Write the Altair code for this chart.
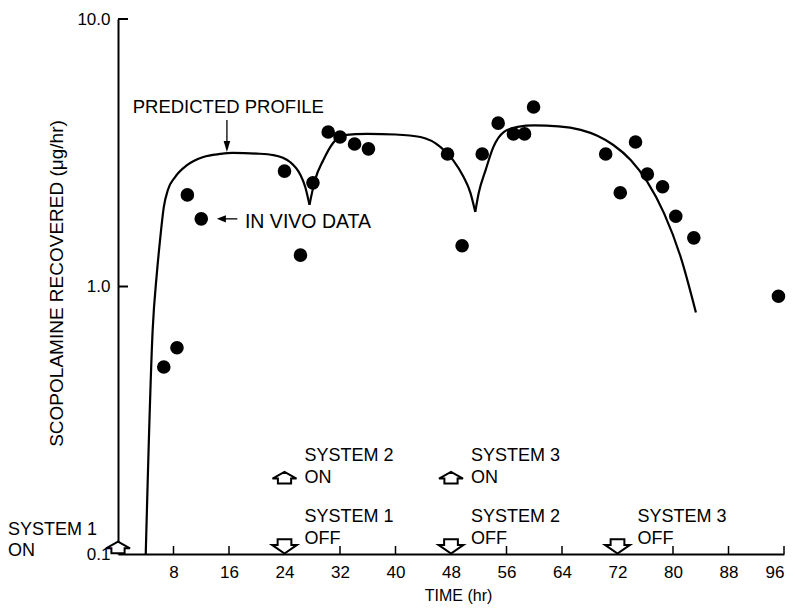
import altair as alt
import pandas as pd

FONT = "Liberation Sans"

# In vivo scopolamine recovery rate (ug/hr) against time (hr)
obs_hr = [6.6, 8.5, 10.0, 12.0, 24.0, 26.3, 28.1, 30.3, 32.0, 34.1, 36.1,
          47.5, 49.6, 52.5, 54.8, 57.0, 58.6, 59.9,
          70.3, 72.4, 74.6, 76.3, 78.5, 80.4, 83.0, 95.2]
obs_rate = [0.50, 0.59, 2.20, 1.79, 2.70, 1.31, 2.44, 3.78, 3.62, 3.41, 3.27,
            3.13, 1.42, 3.13, 4.08, 3.72, 3.72, 4.69,
            3.13, 2.24, 3.47, 2.63, 2.36, 1.83, 1.52, 0.92]

# Predicted profile, one segment per system (cusps at each changeover)
seg1_hr = [4.0, 5.0, 5.6, 6.06, 6.6, 7.2, 8.2, 10.0, 12.3, 14.7, 16.5, 20.0,
           22.4, 24.8, 26.3, 27.0, 27.6]
seg1_rate = [0.10, 0.69, 1.12, 1.49, 1.98, 2.30, 2.56, 2.85, 3.05, 3.13, 3.16,
             3.14, 3.10, 2.92, 2.61, 2.35, 2.02]
seg2_hr = [27.6, 28.4, 29.6, 31.0, 32.5, 36.0, 40.0, 43.6, 46.5, 48.3, 49.8,
           50.8, 51.5]
seg2_rate = [2.02, 2.50, 2.97, 3.44, 3.68, 3.72, 3.70, 3.62, 3.32, 2.97, 2.57,
             2.24, 1.90]
seg3_hr = [51.5, 52.0, 53.0, 54.1, 55.6, 57.6, 60.0, 63.5, 66.7, 69.1, 71.4,
           73.9, 76.3, 78.7, 81.1, 83.3]
seg3_rate = [1.90, 2.24, 2.73, 3.32, 3.78, 3.95, 4.00, 3.97, 3.85, 3.66, 3.38,
             2.97, 2.46, 1.88, 1.29, 0.80]

x_ticks = [8, 16, 24, 32, 40, 48, 56, 64, 72, 80, 88, 96]
y_ticks = [0.1, 1.0, 10.0]

# System application / removal events
on_hr = [0, 24, 48]
on_name = ["SYSTEM 1", "SYSTEM 2", "SYSTEM 3"]
off_hr = [24, 48, 72]
off_name = ["SYSTEM 1", "SYSTEM 2", "SYSTEM 3"]

# Outline arrow glyphs (unit box, scaled by size)
UP = "M0,-0.5L1,0.05L0.55,0.05L0.55,0.46L-0.55,0.46L-0.55,0.05L-1,0.05Z"
DOWN = "M-0.55,-0.55L0.55,-0.55L0.55,-0.1L1,-0.1L0,0.6L-1,-0.1L-0.55,-0.1Z"
HEAD_DOWN = "M-0.6,-1L0.6,-1L0,1Z"
HEAD_LEFT = "M-1,0L1,-0.8L1,0.8Z"

W, H = 666, 535

profile = pd.DataFrame({
    "hr": seg1_hr + seg2_hr + seg3_hr,
    "rate": seg1_rate + seg2_rate + seg3_rate,
    "seg": [1] * len(seg1_hr) + [2] * len(seg2_hr) + [3] * len(seg3_hr),
})
obs = pd.DataFrame({"hr": obs_hr, "rate": obs_rate})

xscale = alt.Scale(domain=[0, 96], nice=False, zero=False)
yscale = alt.Scale(type="log", domain=[0.1, 10], nice=False)

x_axis = alt.Axis(
    values=x_ticks, ticks=False, tickSize=0, grid=False,
    domainColor="black", domainWidth=2,
    labelFont=FONT, labelFontSize=17, labelColor="black",
    labelBaseline="middle", labelPadding=18,
    title="TIME (hr)", titleFont=FONT, titleFontSize=16,
    titleFontWeight="normal", titleColor="black",
    titleX=340, titleY=41, titleBaseline="middle",
)
y_axis = alt.Axis(
    values=y_ticks, format=".1f", ticks=False, tickSize=0, grid=False,
    domainColor="black", domainWidth=2,
    labelFont=FONT, labelFontSize=17, labelColor="black",
    labelBaseline="middle", labelPadding=8,
    title="SCOPOLAMINE RECOVERED (\u03bcg/hr)", titleFont=FONT,
    titleFontSize=19, titleFontWeight="normal", titleColor="black",
    titleAngle=270, titleX=-62, titleY=264, titleBaseline="middle",
    titleAlign="center",
)


def X(field="hr"):
    return alt.X(f"{field}:Q", scale=xscale, axis=x_axis)


def Y(field="rate"):
    return alt.Y(f"{field}:Q", scale=yscale, axis=y_axis)


line = alt.Chart(profile).mark_line(
    color="black", strokeWidth=2.2, interpolate="monotone"
).encode(x=X(), y=Y(), detail="seg:N")

points = alt.Chart(obs).mark_circle(color="black", opacity=1, size=185).encode(
    x=X(), y=Y()
)

xtick_rules = alt.Chart(pd.DataFrame({"hr": x_ticks})).mark_rule(
    color="black", strokeWidth=1.5
).encode(x=X(), y=alt.value(H), y2=alt.value(H - 8))

ytick_rules = alt.Chart(pd.DataFrame({"rate": [1.0, 10.0]})).mark_rule(
    color="black", strokeWidth=2
).encode(y=Y(), x=alt.value(0), x2=alt.value(10))

# Event arrows
arrows = pd.DataFrame({
    "hr": on_hr + off_hr,
    "rate": [0.1056, 0.1924, 0.1924] + [0.107] * 3,
    "glyph": [UP] * 3 + [DOWN] * 3,
    "size": [576] * 3 + [625] * 3,
})
arrow_marks = alt.Chart(arrows).mark_point(
    filled=True, fill="white", stroke="black", strokeWidth=2, opacity=1
).encode(
    x=X(), y=Y(),
    shape=alt.Shape("glyph:N", scale=None),
    size=alt.Size("size:Q", scale=None),
)

# Event labels (two lines each)
ev_rows = []
for h, n in zip(on_hr[1:], on_name[1:]):
    ev_rows.append({"hr": h, "rate": 0.2325, "text": n})
    ev_rows.append({"hr": h, "rate": 0.1924, "text": "ON"})
for h, n in zip(off_hr, off_name):
    ev_rows.append({"hr": h, "rate": 0.1375, "text": n})
    ev_rows.append({"hr": h, "rate": 0.1138, "text": "OFF"})
ev_text = alt.Chart(pd.DataFrame(ev_rows)).mark_text(
    font=FONT, fontSize=18, align="left", baseline="middle", dx=20,
    color="black"
).encode(x=X(), y=Y(), text="text:N")

first_on = pd.DataFrame({
    "hr": [on_hr[0], on_hr[0]],
    "rate": [0.1234, 0.1026],
    "text": [on_name[0], "ON"],
})
first_text = alt.Chart(first_on).mark_text(
    font=FONT, fontSize=18, align="left", baseline="middle", dx=-110,
    color="black"
).encode(x=X(), y=Y(), text="text:N")

# Callouts
pp_text = alt.Chart(pd.DataFrame({"hr": [15.9], "rate": [4.68],
                                  "text": ["PREDICTED PROFILE"]})).mark_text(
    font=FONT, fontSize=18.5, baseline="middle", align="center", color="black"
).encode(x=X(), y=Y(), text="text:N")

iv_text = alt.Chart(pd.DataFrame({"hr": [18.3], "rate": [1.74],
                                  "text": ["IN VIVO DATA"]})).mark_text(
    font=FONT, fontSize=19.5, baseline="middle", align="left", color="black"
).encode(x=X(), y=Y(), text="text:N")

pp_stem = alt.Chart(pd.DataFrame({"hr": [15.7], "top": [4.19], "bot": [3.36]})).mark_rule(
    color="black", strokeWidth=1.3
).encode(x=X(), y=Y("top"), y2="bot:Q")

iv_stem = alt.Chart(pd.DataFrame({"rate": [1.79], "a": [15.4], "b": [17.2]})).mark_rule(
    color="black", strokeWidth=1.3
).encode(y=Y(), x=X("a"), x2="b:Q")

heads = alt.Chart(pd.DataFrame({
    "hr": [15.7, 14.9],
    "rate": [3.34, 1.79],
    "glyph": [HEAD_DOWN, HEAD_LEFT],
    "size": [121, 81],
})).mark_point(filled=True, color="black", opacity=1).encode(
    x=X(), y=Y(),
    shape=alt.Shape("glyph:N", scale=None),
    size=alt.Size("size:Q", scale=None),
)

chart = alt.layer(
    line, points, xtick_rules, ytick_rules, arrow_marks, ev_text, first_text,
    pp_text, iv_text, pp_stem, iv_stem, heads,
).properties(
    width=W, height=H,
    autosize=alt.AutoSizeParams(type="none"),
    padding={"left": 118, "top": 19, "right": 11, "bottom": 61},
    background="white",
).configure_view(stroke=None)

chart.save("out.html", embed_options={"renderer": "svg", "actions": False})
